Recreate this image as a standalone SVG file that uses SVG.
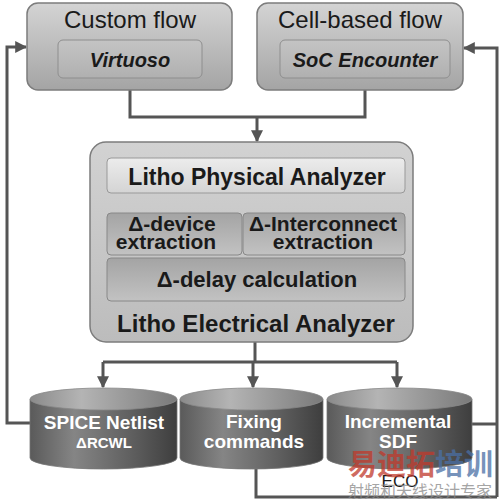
<svg xmlns="http://www.w3.org/2000/svg" width="500" height="502" viewBox="0 0 500 502">
<defs>
<linearGradient id="gOuter" x1="0" y1="0" x2="0" y2="1"><stop offset="0" stop-color="#d4d4d4"/><stop offset="1" stop-color="#a4a4a4"/></linearGradient>
<linearGradient id="gInner" x1="0" y1="0" x2="0" y2="1"><stop offset="0" stop-color="#c4c4c4"/><stop offset="1" stop-color="#b0b0b0"/></linearGradient>
<linearGradient id="gLitho" x1="0" y1="0" x2="0" y2="1"><stop offset="0" stop-color="#d2d2d2"/><stop offset="1" stop-color="#bcbcbc"/></linearGradient>
<linearGradient id="gPhys" x1="0" y1="0" x2="0" y2="1"><stop offset="0" stop-color="#ececec"/><stop offset="1" stop-color="#d4d4d4"/></linearGradient>
<linearGradient id="gDelta" x1="0" y1="0" x2="0" y2="1"><stop offset="0" stop-color="#a4a4a4"/><stop offset="1" stop-color="#c2c2c2"/></linearGradient>
<linearGradient id="gBody" x1="0" y1="0" x2="1" y2="0"><stop offset="0" stop-color="#5a5a5a"/><stop offset="0.3" stop-color="#858585"/><stop offset="0.7" stop-color="#5e5e5e"/><stop offset="1" stop-color="#3e3e3e"/></linearGradient>
<linearGradient id="gTop" x1="0" y1="0" x2="1" y2="0"><stop offset="0" stop-color="#8a8a8a"/><stop offset="0.35" stop-color="#b4b4b4"/><stop offset="1" stop-color="#7a7a7a"/></linearGradient>
<marker id="ah" viewBox="0 0 10 10" refX="9" refY="5" markerWidth="4" markerHeight="4" orient="auto" markerUnits="strokeWidth"><path d="M0,0 L10,5 L0,10 z" fill="#555"/></marker>
<style>
.outer{fill:url(#gOuter);stroke:#7c7c7c;stroke-width:1.5}
.inner{fill:url(#gInner);stroke:#8e8e8e;stroke-width:1}
.litho{fill:url(#gLitho);stroke:#7c7c7c;stroke-width:1.5}
.phys{fill:url(#gPhys);stroke:#999;stroke-width:1}
.delta{fill:url(#gDelta);stroke:#888;stroke-width:1}
.body{fill:url(#gBody);stroke:#777;stroke-width:0.8}
.top{fill:url(#gTop);stroke:#888;stroke-width:0.8}
.t{font-family:"Liberation Sans",Arial,sans-serif;text-anchor:middle;fill:#1a1a1a}
.tb{font-family:"Liberation Sans",Arial,sans-serif;text-anchor:middle;fill:#1a1a1a;font-weight:bold}
.tw{font-family:"Liberation Sans",Arial,sans-serif;text-anchor:middle;fill:#ffffff;font-weight:bold}
.c{fill:none;stroke:#555;stroke-width:3}
.ca{fill:none;stroke:#555;stroke-width:3;marker-end:url(#ah)}
</style>
</defs>
<g id="connectors">
<path class="c" d="M130,90 V117 H257"/>
<path class="c" d="M365,90 V117 H257"/>
<path class="ca" d="M257,117 V141"/>
<path class="c" d="M255,342 V362"/>
<path class="c" d="M103,362 H397"/>
<path class="ca" d="M103,362 V387"/>
<path class="ca" d="M253,362 V387"/>
<path class="ca" d="M397,362 V387"/>
<path class="ca" d="M30,423 H7 V47 H26"/>
<path class="c" d="M470,424 H497"/>
<path class="c" d="M256,466 V497 H497"/>
<path class="ca" d="M497,497 V48 H464"/>
</g>
<g id="custom-flow">
<rect class="outer" x="27" y="3" width="205" height="87" rx="11"/>
<text class="t" x="130" y="28" font-size="24">Custom flow</text>
<g id="virtuoso">
<rect class="inner" x="58" y="40" width="144" height="38" rx="5"/>
<text class="tb" x="130" y="67" font-size="20" font-style="italic">Virtuoso</text>
</g>
</g>
<g id="cell-based-flow">
<rect class="outer" x="257" y="3" width="206" height="87" rx="11"/>
<text class="t" x="360" y="28" font-size="24">Cell-based flow</text>
<g id="soc-encounter">
<rect class="inner" x="280" y="40" width="170" height="38" rx="5"/>
<text class="tb" x="365" y="67" font-size="20" font-style="italic">SoC Encounter</text>
</g>
</g>
<g id="litho-electrical-analyzer">
<rect class="litho" x="90" y="142" width="323" height="200" rx="16"/>
<text class="tb" x="256" y="332" font-size="24">Litho Electrical Analyzer</text>
<g id="litho-physical-analyzer">
<rect class="phys" x="107" y="158" width="298" height="35" rx="4"/>
<text class="tb" x="257" y="185" font-size="23">Litho Physical Analyzer</text>
</g>
<g id="device-extraction">
<rect class="delta" x="107" y="213" width="135" height="42" rx="4"/>
<text class="tb" x="172" y="231" font-size="21">Δ-device</text>
<text class="tb" x="166" y="249" font-size="21">extraction</text>
</g>
<g id="interconnect-extraction">
<rect class="delta" x="243" y="213" width="162" height="42" rx="4"/>
<text class="tb" x="323" y="231" font-size="21">Δ-Interconnect</text>
<text class="tb" x="323" y="249" font-size="21">extraction</text>
</g>
<g id="delay-calculation">
<rect class="delta" x="107" y="258" width="298" height="43" rx="4"/>
<text class="tb" x="257" y="287" font-size="22">Δ-delay calculation</text>
</g>
</g>
<g id="spice-netlist">
<path class="body" d="M30,399 V458 A73.5,11 0 0 0 177,458 V399 z"/>
<ellipse class="top" cx="103.5" cy="399" rx="73.5" ry="11"/>
<text class="tw" x="104" y="429" font-size="19">SPICE Netlist</text>
<text class="tw" x="104" y="448" font-size="15">ΔRCWL</text>
</g>
<g id="fixing-commands">
<path class="body" d="M180,399 V458 A71.5,11 0 0 0 323,458 V399 z"/>
<ellipse class="top" cx="251.5" cy="399" rx="71.5" ry="11"/>
<text class="tw" x="254" y="428" font-size="19">Fixing</text>
<text class="tw" x="254" y="448" font-size="19">commands</text>
</g>
<g id="incremental-sdf">
<path class="body" d="M327,399 V458 A72.5,11 0 0 0 472,458 V399 z"/>
<ellipse class="top" cx="399.5" cy="399" rx="72.5" ry="11"/>
<text class="tw" x="398" y="428" font-size="19">Incremental</text>
<text class="tw" x="398" y="448" font-size="19">SDF</text>
</g>
<text class="t" x="400" y="487" font-size="17">ECO</text>
<g id="watermark" opacity="0.75">
<text x="348" y="475" font-family="'Noto Sans CJK SC',sans-serif" font-size="29" font-weight="bold" fill="#c0392b">易迪拓<tspan fill="#4a6fa5">培训</tspan></text>
<text x="348" y="497" font-family="'Noto Sans CJK SC',sans-serif" font-size="16" fill="#888">射频和天线设计专家</text>
</g>
</svg>
